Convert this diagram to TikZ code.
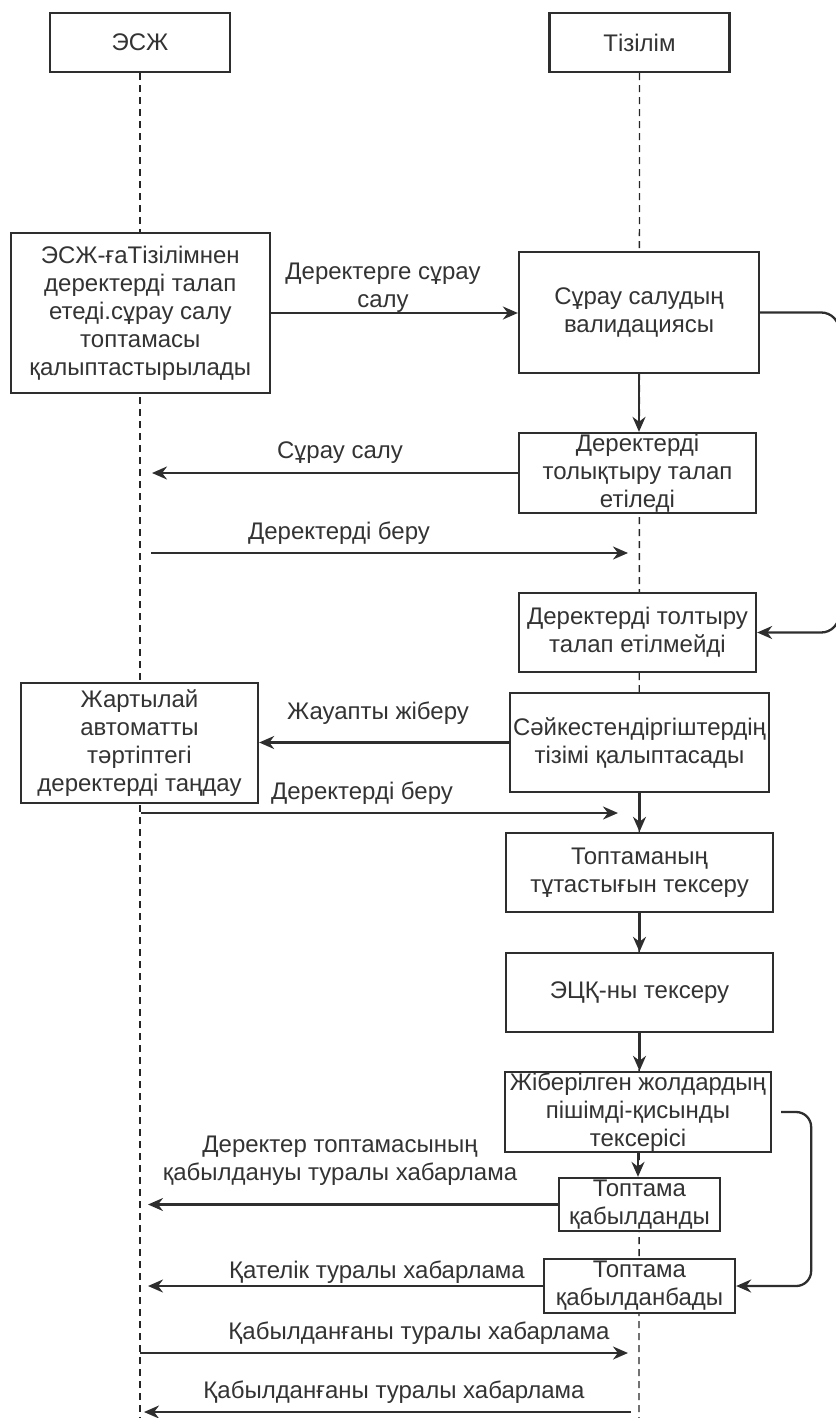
\documentclass[tikz,border=0pt]{standalone}
\usepackage{fontspec}
\setmainfont{Liberation Sans}
\usetikzlibrary{arrows.meta,calc}
\newcommand{\dfs}{\fontsize{24}{28}\selectfont}
\begin{document}
\begin{tikzpicture}[x=1pt,y=-1pt,
  box/.style={draw=black!82, line width=2.3pt, fill=white, align=center, inner sep=0pt, font=\dfs, text=black!80},
  lbl/.style={align=center, inner sep=0pt, font=\dfs, text=black!80},
  life/.style={draw=black!85, line width=1.4pt, dash pattern=on 7pt off 5pt},
  msg/.style={draw=black!82, line width=2.3pt, -{Stealth[length=15pt,width=13pt]}}]
\useasboundingbox (0,0) rectangle (835,1418);
% lifeline ends
\coordinate (E1) at (140,1418);
\coordinate (E2) at (639,1418);
\node[box, minimum width=180pt, minimum height=59pt] (H1) at (140,42.5) {ЭСЖ};
\node[box, minimum width=180pt, minimum height=59pt] (H2) at (639.5,42.5) {Тізілім};
\draw[life] (H1.south) -- (E1);
\draw[life] (H2.south) -- (E2);
% boxes
\node[box, minimum width=259pt, minimum height=160pt] (B1) at (140.3,313) {ЭСЖ-ғаТізілімнен\\деректерді талап\\етеді.сұрау салу\\топтамасы\\қалыптастырылады};
\node[box, minimum width=240pt, minimum height=121pt] (B2) at (639,312.5) {Сұрау салудың\\валидациясы};
\node[box, minimum width=237pt, minimum height=80pt] (B3) at (637.5,473) {Деректерді\\толықтыру талап\\етіледі};
\node[box, minimum width=237pt, minimum height=79pt] (B4) at (637.5,632.5) {Деректерді толтыру\\талап етілмейді};
\node[box, minimum width=237pt, minimum height=120pt] (B5) at (139.5,743) {Жартылай\\автоматты\\тәртіптегі\\деректерді таңдау};
\node[box, minimum width=259pt, minimum height=99pt] (B6) at (639.5,742.5) {Сәйкестендіргіштердің\\тізімі қалыптасады};
\node[box, minimum width=267pt, minimum height=79pt] (B7) at (639.5,872.5) {Топтаманың\\тұтастығын тексеру};
\node[box, minimum width=267pt, minimum height=79pt] (B8) at (639.5,992.5) {ЭЦҚ-ны тексеру};
\node[box, minimum width=266pt, minimum height=80pt] (B9) at (638,1112) {Жіберілген жолдардың\\пішімді-қисынды\\тексерісі};
\node[box, minimum width=161pt, minimum height=53pt] (B10) at (639.5,1204.5) {Топтама\\қабылданды};
\node[box, minimum width=191pt, minimum height=54pt] (B11) at (639.5,1286) {Топтама\\қабылданбады};
% labels
\node[lbl] (L1) at (383,288) {Деректерге сұрау\\салу};
\node[lbl] (L2) at (340,453) {Сұрау салу};
\node[lbl] (L3) at (339,533) {Деректерді беру};
\node[lbl] (L4) at (378,713) {Жауапты жіберу};
\node[lbl] (L5) at (362,793) {Деректерді беру};
\node[lbl] (L6) at (340,1161) {Деректер топтамасының\\қабылдануы туралы хабарлама};
\node[lbl] (L7) at (377,1272) {Қателік туралы хабарлама};
\node[lbl] (L8) at (419,1333) {Қабылданғаны туралы хабарлама};
\node[lbl] (L9) at (394,1392) {Қабылданғаны туралы хабарлама};
% free ends
\coordinate (t1) at (152,473);
\coordinate (s2) at (151,553);
\coordinate (t2) at (628,553);
\coordinate (s4) at (141,813);
\coordinate (t4) at (618,813);
\coordinate (t5) at (148,1204.5);
\coordinate (t6) at (148,1286);
\coordinate (s7) at (140,1353);
\coordinate (t7) at (628,1353);
\coordinate (s8) at (631,1412);
\coordinate (t8) at (144,1412);
\coordinate (c2) at ($(B9.east)+(9,0)$);
% connectors
\draw[msg] (B1.east) -- (B1.east -| B2.west);
\draw[msg] (B2.south) -- (B2.south |- B3.north);
\draw[msg] (B3.west) -- (t1);
\draw[msg] (s2) -- (t2);
\draw[msg, rounded corners=18pt] (B2.east) -- ++(79,0) |- (B4.east);
\draw[msg] (B6.west) -- (B6.west -| B5.east);
\draw[msg] (s4) -- (t4);
\draw[msg] (B6.south) -- (B6.south |- B7.north);
\draw[msg] (B7.south) -- (B7.south |- B8.north);
\draw[msg] (B8.south) -- (B8.south |- B9.north);
\draw[msg] (B9.south) -- (B9.south |- B10.north);
\draw[msg] (B10.west) -- (t5);
\draw[msg] (B11.west) -- (t6);
\draw[msg, rounded corners=15pt] (c2) -- ++(30,0) |- (B11.east);
\draw[msg] (s7) -- (t7);
\draw[msg] (s8) -- (t8);
\end{tikzpicture}
\end{document}
